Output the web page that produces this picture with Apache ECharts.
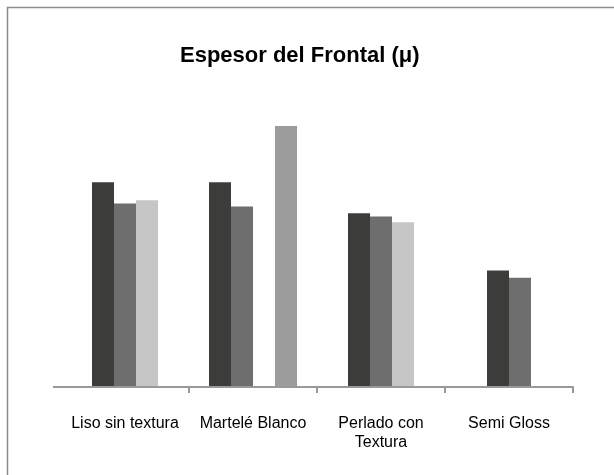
<!DOCTYPE html>
<html>
<head>
<meta charset="utf-8">
<title>Espesor del Frontal</title>
<script src="https://cdn.jsdelivr.net/npm/echarts@6/dist/echarts.min.js"></script>
<style>
  html, body { margin: 0; padding: 0; background: #fff; }
  #chart { width: 614px; height: 475px; }
</style>
</head>
<body>
<div id="chart"></div>
<script>
  // categorías del eje X
  const categories = ['Liso sin textura', 'Martelé Blanco', 'Perlado con\nTextura', 'Semi Gloss'];

  // valores (µ), null = sin barra
  const serieOscura = [70.6, 70.6, 59.9, 40.2];
  const serieMedia  = [63.3, 62.3, 58.8, 37.7];
  const serieClara  = [64.4, null, 56.8, null];
  const serieGris   = [null, 90.0, null, null];

  const series = [serieOscura, serieMedia, serieClara, serieGris];
  const colors = ['#3c3c3a', '#6e6e6e', '#c6c6c6', '#9c9c9c'];

  // cada categoría centra solo sus barras (hasta la última no nula)
  const slotCount = categories.map((c, ci) => {
    let last = -1;
    series.forEach((s, si) => { if (s[ci] != null) last = si; });
    return last + 1;
  });

  const BAR_FRAC = 22 / 128; // ancho de barra respecto a la categoría

  const chart = echarts.init(document.getElementById('chart'));

  chart.setOption({
    animation: false,
    title: {
      text: 'Espesor del Frontal (μ)',
      left: 175,
      top: 40,
      textStyle: {
        fontFamily: 'Liberation Sans, Arial, sans-serif',
        fontSize: 22,
        fontWeight: 'bold',
        color: '#000'
      }
    },
    graphic: [{
      // marco del gráfico
      type: 'rect',
      shape: { x: 7.5, y: 7.5, width: 640, height: 500 },
      style: { fill: 'none', stroke: '#8c8c8c', lineWidth: 1.5 },
      silent: true
    }, {
      // prolongación del eje a la izquierda
      type: 'line',
      shape: { x1: 53, y1: 387, x2: 62, y2: 387 },
      style: { stroke: '#999', lineWidth: 2 },
      silent: true
    }],
    grid: { left: 61, right: 41, top: 100, bottom: 88 },
    xAxis: {
      type: 'category',
      data: categories,
      axisLine: { lineStyle: { color: '#999', width: 2 } },
      axisTick: {
        show: true,
        length: 6,
        interval: (index) => index !== 0,
        lineStyle: { color: '#999', width: 2 }
      },
      axisLabel: {
        interval: 0,
        margin: 27,
        fontFamily: 'Liberation Sans, Arial, sans-serif',
        fontSize: 16,
        lineHeight: 19,
        color: '#000'
      }
    },
    yAxis: {
      type: 'value',
      min: 0,
      max: 99,
      show: false,
      splitLine: { show: false }
    },
    series: series.map((s, si) => ({
      type: 'custom',
      name: 'serie' + si,
      encode: { x: 0, y: 1 },
      itemStyle: { color: colors[si] },
      data: s.map((v, ci) => [ci, v]).filter(d => d[1] != null),
      renderItem: (params, api) => {
        const ci = api.value(0);
        const base = api.coord([ci, 0]);
        const top = api.coord([ci, api.value(1)]);
        const bw = api.size([1, 0])[0] * BAR_FRAC;
        const x = base[0] - slotCount[ci] * bw / 2 + si * bw;
        return {
          type: 'rect',
          shape: { x: x, y: top[1], width: bw, height: base[1] - top[1] - 1 },
          style: { fill: colors[si] }
        };
      }
    }))
  });
</script>
</body>
</html>
